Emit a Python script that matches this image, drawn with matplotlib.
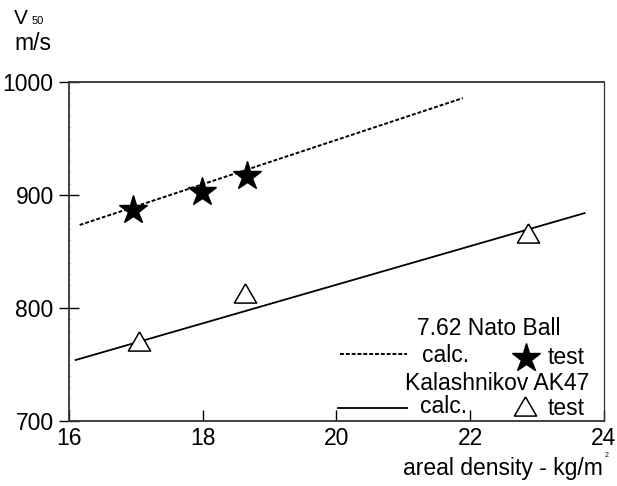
import matplotlib
matplotlib.use("Agg")
from matplotlib import pyplot as plt
from matplotlib.ticker import MultipleLocator

plt.rcParams['font.family'] = ['Liberation Sans', 'DejaVu Sans']

# values
nato_calc_x = [16.16, 21.89]
nato_calc_y = [873.5, 985.8]
nato_test_x = [16.96, 17.99, 18.66]
nato_test_y = [886.7, 902.7, 916.8]

ak_calc_x = [16.10, 23.71]
ak_calc_y = [754.0, 884.0]
ak_test_x = [17.05, 18.63, 22.86]
ak_test_y = [770.4, 813.0, 866.0]

x_ticks = [16, 18, 20, 22, 24]
y_ticks = [700, 800, 900, 1000]

tri = [(0, 1), (-1.16, -1), (1.16, -1), (0, 1)]
fs = 16.5

fig = plt.figure(figsize=(6.17, 4.86), dpi=100)
ax = fig.add_axes([0.1118, 0.1337, 0.8671, 0.6975])

ax.plot(nato_calc_x, nato_calc_y, color='black', lw=1.4, ls=(0, (2, 1)))
ax.plot(nato_test_x, nato_test_y, ls='none', marker='*', ms=21, color='black')
ax.plot(ak_calc_x, ak_calc_y, color='black', lw=1.3)
ax.plot(ak_test_x, ak_test_y, ls='none', marker=tri, ms=16, mfc='white',
        mec='black', mew=1.1)

ax.set_xlim(16, 24)
ax.set_ylim(700, 1000)
ax.set_xticks(x_ticks)
ax.set_yticks(y_ticks)
ax.yaxis.set_minor_locator(MultipleLocator(10))
ax.tick_params(axis='x', direction='in', length=8, width=1, labelsize=fs, pad=4)
ax.tick_params(axis='y', direction='inout', length=14, width=1, labelsize=fs, pad=4)
ax.tick_params(axis='y', which='minor', direction='inout', length=2, width=0.6,
               color='#777777')
for s in ax.spines.values():
    s.set_color('#333333')
    s.set_linewidth(1.3)
ax.spines['right'].set_linewidth(0.9)

# legend drawn by hand, same layout as the original
tr = ax.transAxes
ax.text(0.784, 0.254, '7.62 Nato Ball', transform=tr, ha='center', va='baseline', fontsize=fs)
ax.plot([0.5065, 0.632], [0.198, 0.198], transform=tr, color='black', lw=1.4, ls=(0, (2, 1)))
ax.text(0.660, 0.174, 'calc.', transform=tr, ha='left', va='baseline', fontsize=fs)
ax.plot([0.854], [0.186], transform=tr, marker='*', ms=21, color='black')
ax.text(0.895, 0.168, 'test', transform=tr, ha='left', va='baseline', fontsize=fs)
ax.text(0.800, 0.0914, 'Kalashnikov AK47', transform=tr, ha='center', va='baseline', fontsize=fs)
ax.plot([0.503, 0.632], [0.038, 0.038], transform=tr, color='black', lw=1.3)
ax.text(0.656, 0.024, 'calc.', transform=tr, ha='left', va='baseline', fontsize=fs)
ax.plot([0.852], [0.044], transform=tr, marker=tri, ms=16, mfc='white', mec='black', mew=1.1)
ax.text(0.895, 0.018, 'test', transform=tr, ha='left', va='baseline', fontsize=fs)

# axis titles
fig.text(0.022, 0.951, 'V', fontsize=15, ha='left', va='baseline')
fig.text(0.051, 0.951, '50', fontsize=8, ha='left', va='baseline')
fig.text(0.024, 0.897, 'm/s', fontsize=fs, ha='left', va='baseline')
fig.text(0.977, 0.0226, 'areal density - kg/m', fontsize=fs, ha='right', va='baseline')
fig.text(0.980, 0.06, '2', fontsize=5, ha='left', va='baseline')

fig.savefig('out.png', dpi=100)
